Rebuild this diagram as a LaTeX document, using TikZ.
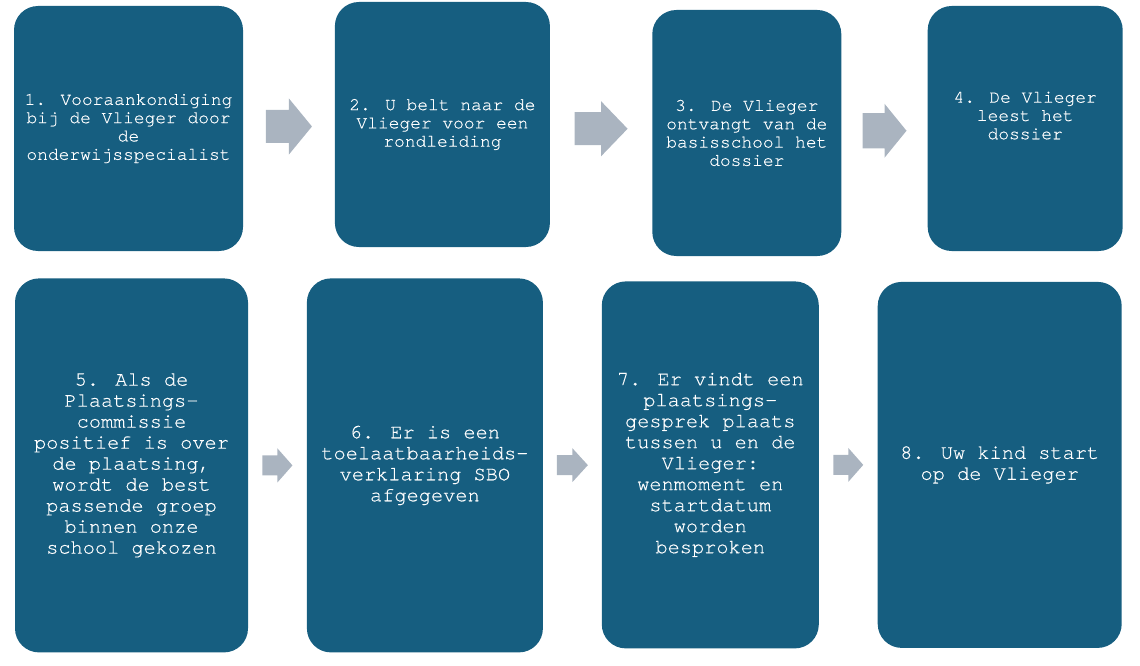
\documentclass[tikz,border=0pt]{standalone}
\usepackage{fontspec}
\newfontfamily\boxfont[FakeBold=0.4]{texgyrecursor-regular.otf}
\usepackage{xcolor}
\usepackage{tikz}
\usetikzlibrary{positioning,calc}
\definecolor{boxblue}{HTML}{165E80}
\definecolor{arrowgrey}{HTML}{AAB4C0}
\tikzset{
  stepbox/.style={fill=boxblue, text=white, rounded corners=24pt, align=center, inner sep=0pt},
  toprow/.style={stepbox, font={\boxfont\fontsize{17.9}{18.3}\selectfont}},
  bottomrow/.style={stepbox, font={\boxfont\fontsize{20.3}{21}\selectfont}},
  flowarrow/.style={fill=arrowgrey}
}
\begin{document}
\begin{tikzpicture}[x=1pt,y=-1pt]
\useasboundingbox (0,0) rectangle (1140,666);
% nodes
\node[toprow, minimum width=229, minimum height=245] (b1) at (128.5,128.5) {1. Vooraankondiging\\bij de Vlieger door\\de\\onderwijsspecialist};%
\node[toprow, minimum width=215, minimum height=245, right=91.5pt of b1, yshift=4pt] (b2) {2. U belt naar de\\Vlieger voor een\\rondleiding};%
\node[toprow, minimum width=189, minimum height=246, right=102pt of b2, yshift=-8.5pt] (b3) {3. De Vlieger\\ontvangt van de\\basisschool het\\dossier};%
\node[toprow, minimum width=195, minimum height=245, right=86pt of b3, yshift=4.5pt, text depth=26pt] (b4) {4. De Vlieger\\leest het\\dossier};%

\node[bottomrow, minimum width=233, minimum height=374, below=27pt of b1.south west, anchor=north west, xshift=1pt] (b5) {5. Als de\\Plaatsings-\\commissie\\positief is over\\de plaatsing,\\wordt de best\\passende groep\\binnen onze\\school gekozen};%
\node[bottomrow, minimum width=236, minimum height=374, right=58.5pt of b5] (b6) {6. Er is een\\toelaatbaarheids-\\verklaring SBO\\afgegeven};%
\node[bottomrow, minimum width=217, minimum height=367, right=58.5pt of b6, yshift=0.5pt] (b7) {7. Er vindt een\\plaatsings-\\gesprek plaats\\tussen u en de\\Vlieger:\\wenmoment en\\startdatum\\worden\\besproken};%
\node[bottomrow, minimum width=244, minimum height=366, right=58.5pt of b7] (b8) {8. Uw kind start\\op de Vlieger};%

% arrows
\foreach \a/\b/\l/\s/\h in {b1/b2/46/16.5/28, b2/b3/53/16.5/27.5, b3/b4/44/17.5/27, b5/b6/30/10/17, b6/b7/31/10/17, b7/b8/30/10/17}
  \fill[flowarrow] ($(\a.east)!0.5!(\b.west)$) ++(-\l/2,-\s) -- ++(\l/2,0) -- ++(0,\s-\h) -- ++(\l/2,\h) -- ++(-\l/2,\h) -- ++(0,\s-\h) -- ++(-\l/2,0) -- cycle;
\end{tikzpicture}
\end{document}
